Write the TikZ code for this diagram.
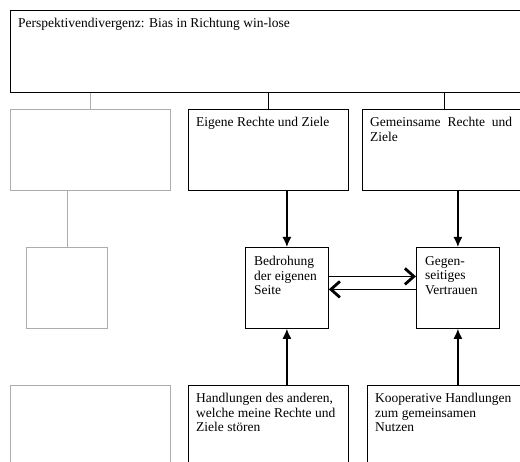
\documentclass[tikz,border=0pt]{standalone}
\usepackage{fontspec}
\setmainfont{Liberation Serif}
\usepackage{tikz}
\usetikzlibrary{arrows.meta}
\tikzset{Box/.style={draw,anchor=north west,line width=.8pt,minimum width=160pt,minimum height=81pt,inner sep=0pt},
	ghostBox/.style={Box,draw=gray!65,line width=.7pt},
	boxText/.style={anchor=north west,inner sep=8pt,align=left,font=\fontsize{13.5}{14.5}\selectfont},
	smallText/.style={boxText,inner sep=9pt}}

\begin{document}
\begin{tikzpicture}[x=1pt,y=-1pt]
	\clip (0,0) rectangle (520,462);
	\node[Box,minimum width=530pt,minimum height=82pt,label={[boxText]north west:{Perspektivendivergenz: Bias in Richtung win-lose}}] (P) at (10,10) {};
	%
	\node[ghostBox] (L1) at (10,109) {};
	\node[Box,label={[boxText]north west:{Eigene Rechte und Ziele}}] (E) at (188,109) {};
	\node[Box,minimum width=170pt,label={[boxText,text width=142pt]north west:{Gemeinsame\hfill Rechte\hfill und\\Ziele}}] (G) at (362,109) {};
	%
	\node[ghostBox,minimum width=81pt] (L2) at (26,247) {};
	\node[Box,minimum width=83pt,label={[smallText]north west:{Bedrohung\\der eigenen\\Seite}}] (B) at (245,247) {};
	\node[Box,minimum width=83pt,label={[smallText]north west:{Gegen-\\seitiges\\Vertrauen}}] (V) at (416,247) {};
	%
	\node[ghostBox,minimum height=95pt] (L3) at (10,385) {};
	\node[Box,minimum height=95pt,label={[boxText]north west:{Handlungen des anderen,\\welche meine Rechte und\\Ziele st\"oren}}] (H) at (188,385) {};
	\node[Box,minimum width=170pt,minimum height=95pt,label={[boxText]north west:{Kooperative Handlungen\\zum gemeinsamen\\Nutzen}}] (K) at (367,385) {};
	%
	\path[draw=gray!65,line width=.7pt]
	(L1.north |- P.south) edge (L1.north)
	(L2.north |- L1.south) edge (L2.north)
	(L2.south) edge (L3.north |- L2.south);
	\path[draw,line width=.8pt]
	(E.north |- P.south) edge (E.north)
	([xshift=-3pt]G.north |- P.south) edge ([xshift=-3pt]G.north);
	\path[-{Latex[length=10pt,width=9pt]},line width=1.4pt]
	(B.north |- E.south) edge (B.north)
	(V.north |- G.south) edge (V.north)
	(B.south |- H.north) edge (B.south)
	(V.south |- K.north) edge (V.south);
	\path[-{Straight Barb[length=9pt,width=16pt,line width=2.8pt]},double,double distance=2.2pt,line width=.9pt]
	([yshift=11.5pt]B.east) edge ([yshift=11.5pt]B.east -| V.west)
	([yshift=-1.5pt]B.east -| V.west) edge ([yshift=-1.5pt]B.east);
\end{tikzpicture}
\end{document}
